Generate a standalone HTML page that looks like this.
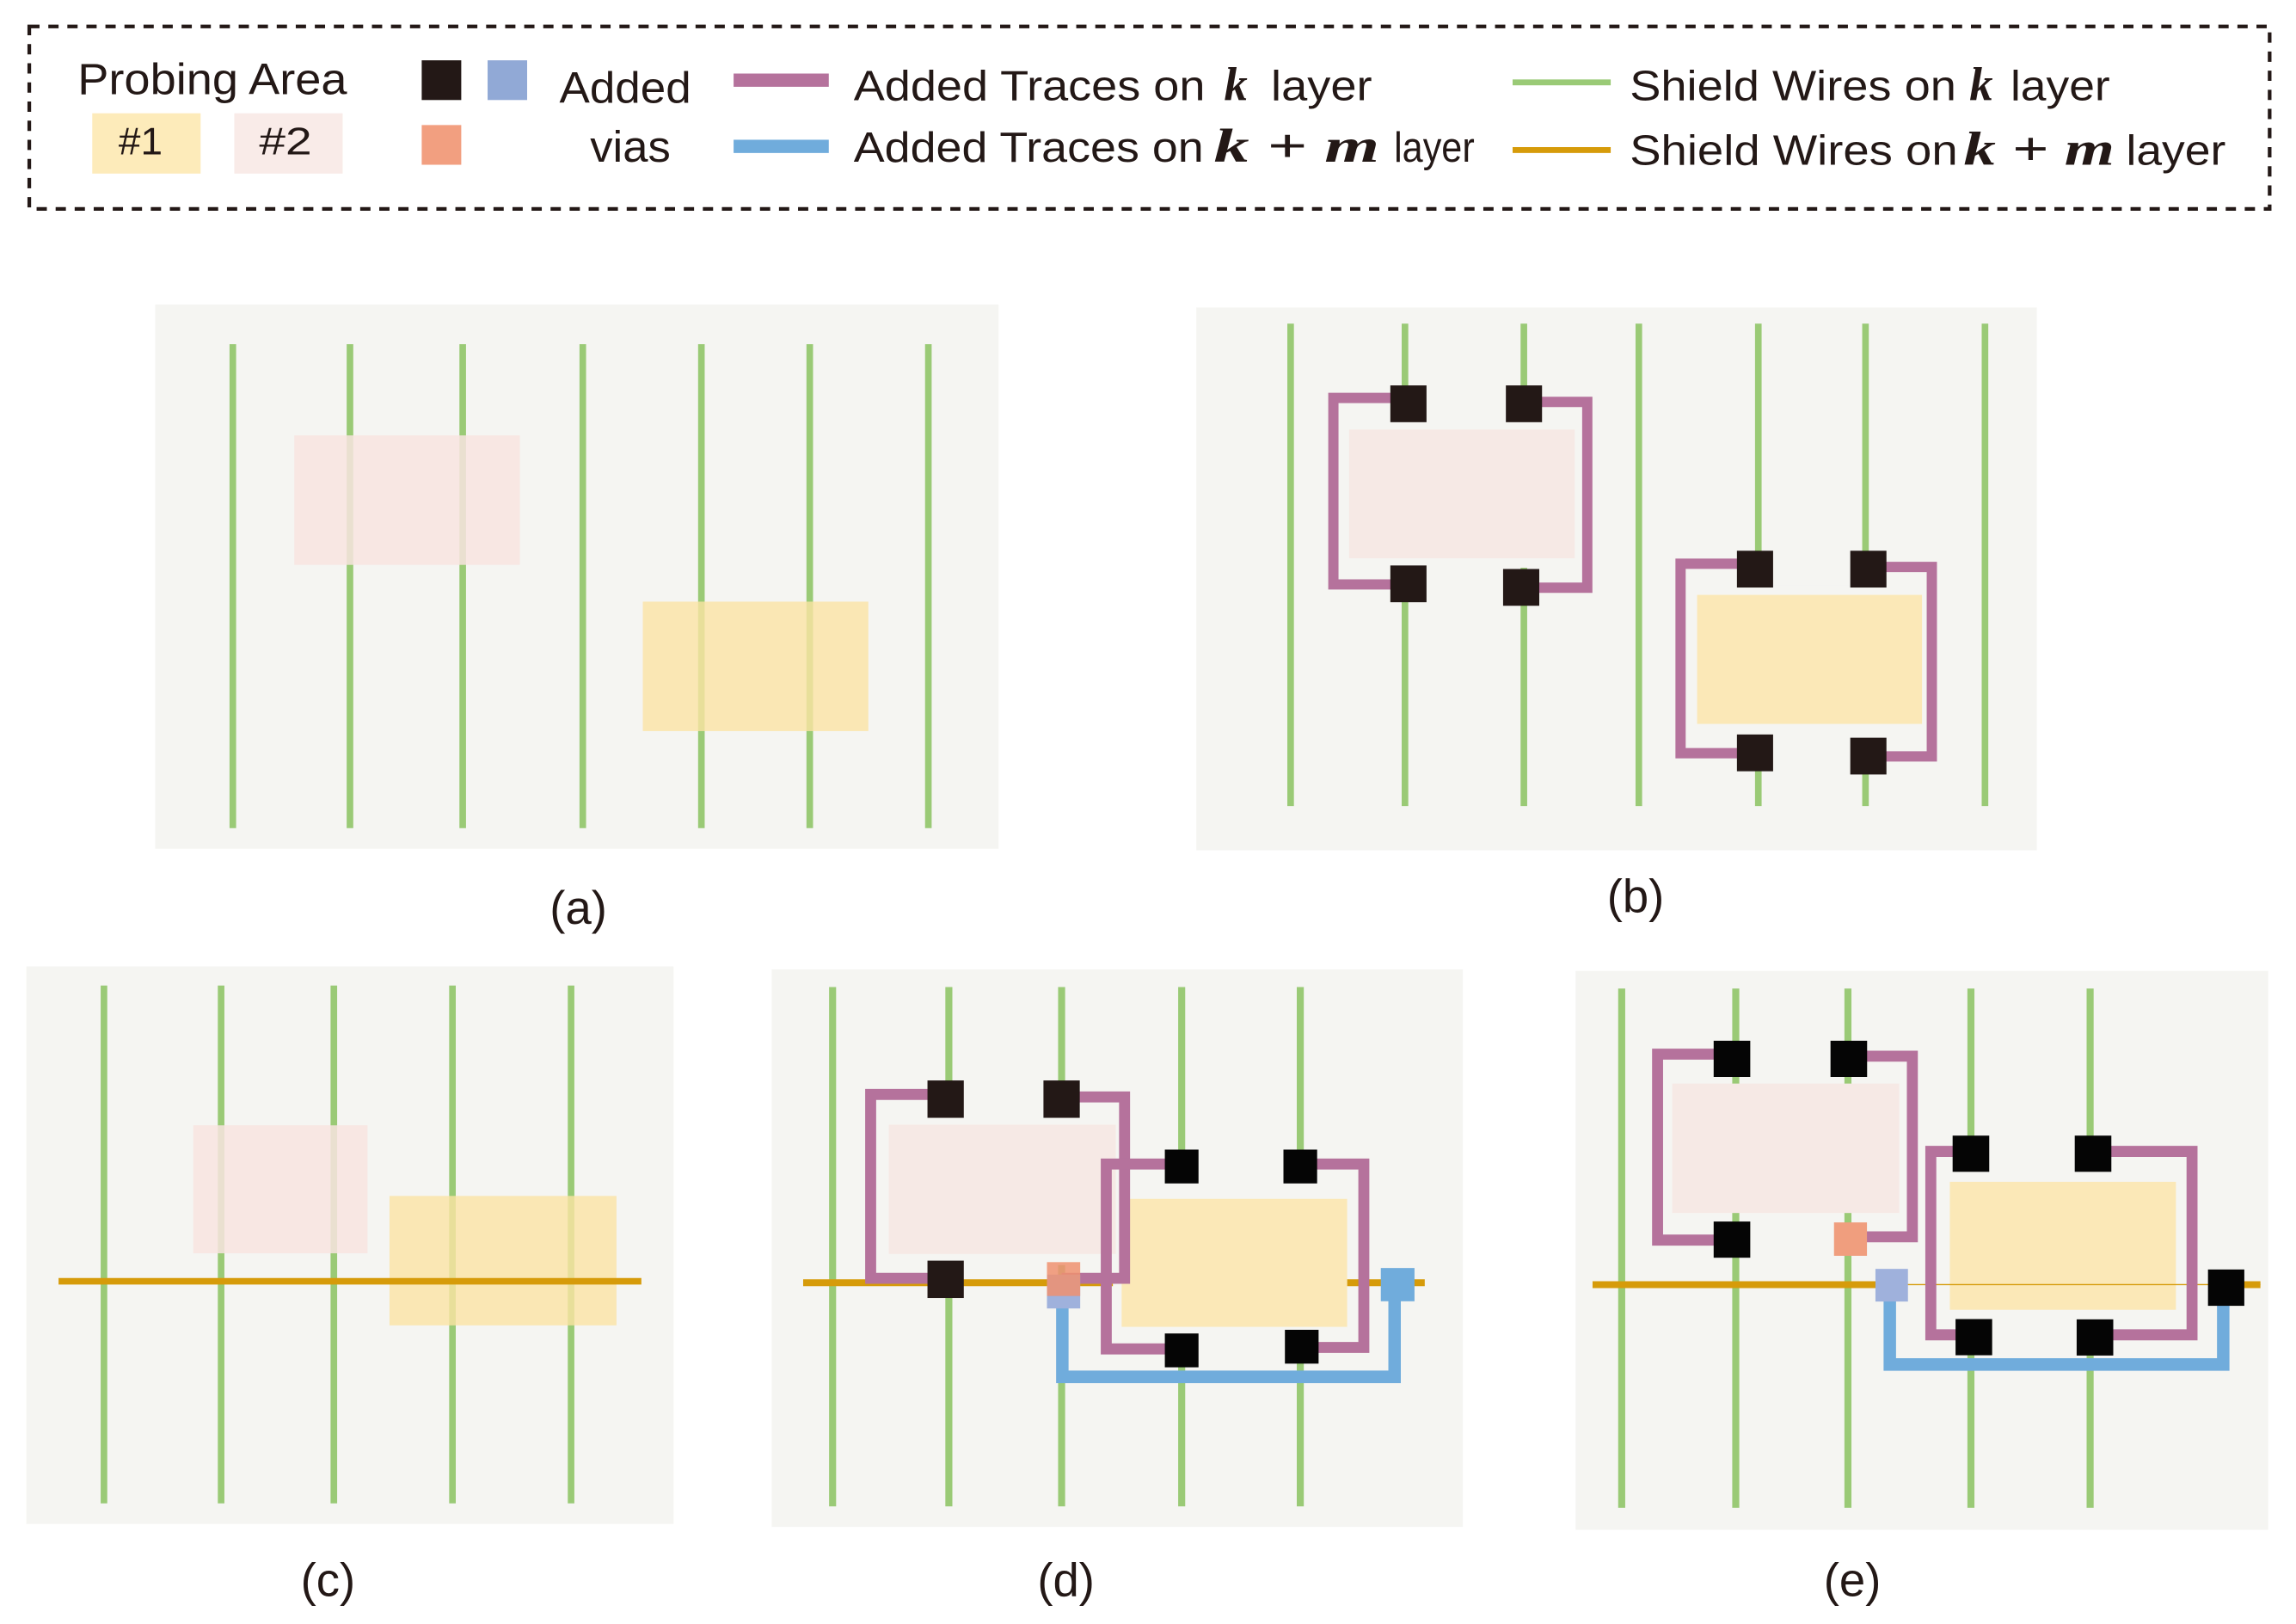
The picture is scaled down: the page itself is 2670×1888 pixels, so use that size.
<!DOCTYPE html>
<html><head><meta charset="utf-8"><style>html,body{margin:0;padding:0;background:#fff}svg{display:block}text{font-family:"Liberation Sans",sans-serif;fill:#231816}.m{font-family:"Liberation Serif",serif;font-style:italic;font-weight:bold}</style></head>
<body>
<svg width="2670" height="1888" viewBox="0 0 1568 1104" preserveAspectRatio="none" xmlns="http://www.w3.org/2000/svg">
<!-- legend -->
<rect x="20" y="18" width="1530" height="124" fill="none" stroke="#231816" stroke-width="2.5" stroke-dasharray="7,6"/>
<text x="53" y="64" font-size="30" textLength="184" lengthAdjust="spacingAndGlyphs">Probing Area</text>
<rect x="63" y="77" width="74" height="41" fill="#fdebba"/>
<rect x="160" y="77" width="74" height="41" fill="#f9ebe8"/>
<text x="81" y="105" font-size="26" textLength="30" lengthAdjust="spacingAndGlyphs">#1</text>
<text x="177" y="105" font-size="26" textLength="36" lengthAdjust="spacingAndGlyphs">#2</text>
<rect x="288" y="41" width="27" height="27" fill="#231816"/>
<rect x="333" y="41" width="27" height="27" fill="#91a9d6"/>
<rect x="288" y="85" width="27" height="27" fill="#f29f80"/>
<text x="382" y="70" font-size="30" textLength="90" lengthAdjust="spacingAndGlyphs">Added</text>
<text x="403" y="110" font-size="30" textLength="55" lengthAdjust="spacingAndGlyphs">vias</text>
<rect x="501" y="50" width="65" height="9" fill="#b5729c"/>
<rect x="501" y="95" width="65" height="9" fill="#70acdc"/>
<text x="583" y="68" font-size="29" textLength="240" lengthAdjust="spacingAndGlyphs">Added Traces on</text>
<text class="m" x="836" y="68" font-size="32">k</text>
<text x="868" y="68" font-size="29" textLength="69" lengthAdjust="spacingAndGlyphs">layer</text>
<text x="583" y="110" font-size="29" textLength="239" lengthAdjust="spacingAndGlyphs">Added Traces on</text>
<text class="m" x="829" y="110" font-size="32" textLength="113" lengthAdjust="spacingAndGlyphs">k + m</text>
<text x="952" y="110" font-size="29" textLength="55" lengthAdjust="spacingAndGlyphs">layer</text>
<rect x="1033" y="54" width="67" height="4" fill="#9aca76"/>
<rect x="1033" y="100" width="67" height="4" fill="#d69b0a"/>
<text x="1113" y="68" font-size="29" textLength="223" lengthAdjust="spacingAndGlyphs">Shield Wires on</text>
<text class="m" x="1345" y="68" font-size="32">k</text>
<text x="1373" y="68" font-size="29" textLength="68" lengthAdjust="spacingAndGlyphs">layer</text>
<text x="1113" y="112" font-size="29" textLength="224" lengthAdjust="spacingAndGlyphs">Shield Wires on</text>
<text class="m" x="1341" y="112" font-size="32" textLength="103" lengthAdjust="spacingAndGlyphs">k + m</text>
<text x="1452" y="112" font-size="29" textLength="68" lengthAdjust="spacingAndGlyphs">layer</text>

<!-- panel a -->
<rect x="106" y="207" width="576" height="370" fill="#f5f5f2"/>
<g stroke="#9aca76" stroke-width="4.5">
<line x1="159" y1="234" x2="159" y2="563"/><line x1="239" y1="234" x2="239" y2="563"/><line x1="316" y1="234" x2="316" y2="563"/><line x1="398" y1="234" x2="398" y2="563"/><line x1="479" y1="234" x2="479" y2="563"/><line x1="553" y1="234" x2="553" y2="563"/><line x1="634" y1="234" x2="634" y2="563"/>
</g>
<rect x="201" y="296" width="154" height="88" fill="#f8e4e1" opacity="0.85"/>
<rect x="439" y="409" width="154" height="88" fill="#fbe3a4" opacity="0.8"/>
<text x="395" y="628" font-size="32" text-anchor="middle">(a)</text>

<!-- panel b -->
<rect x="817" y="209" width="574" height="369" fill="#f5f5f2"/>
<g stroke="#9aca76" stroke-width="4.5">
<line x1="881.4" y1="220" x2="881.4" y2="548"/><line x1="959.5" y1="220" x2="959.5" y2="548"/><line x1="1040.7" y1="220" x2="1040.7" y2="548"/><line x1="1119.2" y1="220" x2="1119.2" y2="548"/><line x1="1200.8" y1="220" x2="1200.8" y2="548"/><line x1="1274" y1="220" x2="1274" y2="548"/><line x1="1355.6" y1="220" x2="1355.6" y2="548"/>
</g>
<rect x="948" y="286" width="120" height="100" fill="#f5f5f2"/>
<rect x="1185" y="398" width="100" height="110" fill="#f5f5f2"/>
<rect x="921.4" y="292" width="154" height="87.5" fill="#f6e9e5"/>
<rect x="1159" y="404.4" width="153.6" height="87.7" fill="#fbe8b7"/>
<g fill="none" stroke="#b5729c" stroke-width="7">
<polyline points="962,270.5 910.6,270.5 910.6,397.3 962,397.3"/>
<polyline points="1040,273.2 1084,273.2 1084,399.5 1039,399.5"/>
<polyline points="1198,383.2 1147.7,383.2 1147.7,512 1198,512"/>
<polyline points="1276,385.4 1319.3,385.4 1319.3,514.2 1276,514.2"/>
</g>
<g fill="#231816">
<rect x="949.5" y="262" width="24.7" height="25"/><rect x="1028.4" y="262" width="24.7" height="25"/>
<rect x="949.5" y="384.4" width="24.7" height="25"/><rect x="1026.5" y="386.8" width="24.7" height="25"/>
<rect x="1186.2" y="374.4" width="24.7" height="25"/><rect x="1263.6" y="374.4" width="24.7" height="25"/>
<rect x="1186.2" y="499.3" width="24.7" height="25"/><rect x="1263.6" y="501.5" width="24.7" height="25"/>
</g>
<text x="1117" y="620" font-size="32" text-anchor="middle">(b)</text>

<!-- panel c -->
<rect x="18" y="657" width="442" height="379" fill="#f5f5f2"/>
<g stroke="#9aca76" stroke-width="4.5">
<line x1="71" y1="670" x2="71" y2="1022"/><line x1="151" y1="670" x2="151" y2="1022"/><line x1="228" y1="670" x2="228" y2="1022"/><line x1="309" y1="670" x2="309" y2="1022"/><line x1="390" y1="670" x2="390" y2="1022"/>
</g>
<rect x="132" y="765" width="119" height="87" fill="#f8e4e1" opacity="0.85"/>
<rect x="266" y="813" width="155" height="88" fill="#fbe3a4" opacity="0.8"/>
<line x1="40" y1="871" x2="438" y2="871" stroke="#d69b0a" stroke-width="4.5"/>
<text x="224" y="1085" font-size="32" text-anchor="middle">(c)</text>

<!-- panel d -->
<rect x="527" y="659" width="472" height="379" fill="#f5f5f2"/>
<g stroke="#9aca76" stroke-width="4.8">
<line x1="568.6" y1="671" x2="568.6" y2="1024"/><line x1="648" y1="671" x2="648" y2="1024"/><line x1="725" y1="671" x2="725" y2="1024"/><line x1="807" y1="671" x2="807" y2="1024"/><line x1="888" y1="671" x2="888" y2="1024"/>
</g>
<line x1="548.5" y1="872" x2="973" y2="872" stroke="#d69b0a" stroke-width="4.7"/>
<rect x="640" y="750" width="100" height="110" fill="#f5f5f2"/>
<rect x="760" y="790" width="160" height="120" fill="#f5f5f2"/>
<rect x="607" y="764.6" width="155" height="87.8" fill="#f6e9e5"/>
<rect x="766" y="815" width="154" height="87" fill="#fbe8b7"/>
<g fill="none" stroke="#b5729c" stroke-width="7.5">
<polyline points="645,744 594.6,744 594.6,869 645,869"/>
<polyline points="725,745.7 768,745.7 768,869 725,869"/>
<polyline points="807,791.3 755.5,791.3 755.5,917 807,917"/>
<polyline points="888,791.3 931.4,791.3 931.4,916 888,916"/>
</g>
<polyline points="725.5,880 725.5,936 952.4,936 952.4,873" fill="none" stroke="#70acdc" stroke-width="8.5"/>
<rect x="715" y="866.5" width="22.7" height="23" fill="#9fb1dc"/>
<rect x="715" y="858" width="22.7" height="23" fill="#ee9070" opacity="0.85"/>
<rect x="943" y="862" width="23" height="22.6" fill="#70acdc"/>
<g fill="#231816">
<rect x="633.4" y="734.5" width="24.8" height="25.4"/><rect x="712.6" y="734.5" width="24.8" height="25.4"/>
<rect x="633.4" y="857" width="24.8" height="25.4"/>
</g>
<g fill="#050505">
<rect x="795.5" y="781.5" width="23" height="23"/><rect x="876.5" y="781.5" width="23" height="23"/>
<rect x="795.5" y="906.5" width="23" height="23"/><rect x="877.5" y="904" width="23" height="23"/>
</g>
<text x="728" y="1085" font-size="32" text-anchor="middle">(d)</text>

<!-- panel e -->
<rect x="1076" y="660" width="473" height="380" fill="#f5f5f2"/>
<g stroke="#9aca76" stroke-width="4.8">
<line x1="1107.5" y1="672" x2="1107.5" y2="1025"/><line x1="1185.4" y1="672" x2="1185.4" y2="1025"/><line x1="1262" y1="672" x2="1262" y2="1025"/><line x1="1346" y1="672" x2="1346" y2="1025"/><line x1="1427.4" y1="672" x2="1427.4" y2="1025"/>
</g>
<line x1="1087.6" y1="873.3" x2="1290" y2="873.3" stroke="#d69b0a" stroke-width="4.7"/>
<rect x="1325" y="795" width="170" height="105" fill="#f5f5f2"/>
<rect x="1142" y="736.6" width="155" height="88" fill="#f6e9e5"/>
<rect x="1331.6" y="803.4" width="154.4" height="87" fill="#fbe8b7"/>
<line x1="1290" y1="873.3" x2="1543.7" y2="873.3" stroke="#d69b0a" stroke-width="0.8"/>
<line x1="1532" y1="873.3" x2="1543.7" y2="873.3" stroke="#d69b0a" stroke-width="4.7"/>
<g fill="none" stroke="#b5729c" stroke-width="7.5">
<polyline points="1182,716.6 1132,716.6 1132,843 1182,843"/>
<polyline points="1262,718 1306,718 1306,840.8 1268,840.8"/>
<polyline points="1346,782.7 1318.6,782.7 1318.6,907.4 1348,907.4"/>
<polyline points="1429,782.7 1497,782.7 1497,907.4 1430,907.4"/>
</g>
<polyline points="1290.6,880 1290.6,927.6 1518.3,927.6 1518.3,887" fill="none" stroke="#70acdc" stroke-width="8.5"/>
<rect x="1280.8" y="862.6" width="22.2" height="22.2" fill="#9fb1dc"/>
<rect x="1252.5" y="831" width="22.5" height="22.7" fill="#f09e7e"/>
<g fill="#050505">
<rect x="1170.3" y="707.5" width="25" height="24.6"/><rect x="1250.1" y="707.5" width="25" height="24.6"/>
<rect x="1170.3" y="830.4" width="25" height="24.6"/>
<rect x="1333.5" y="772" width="25" height="24.6"/><rect x="1416.9" y="772" width="25" height="24.6"/>
<rect x="1335.5" y="896.7" width="25" height="24.6"/><rect x="1418.2" y="896.9" width="25" height="24.6"/>
<rect x="1507.9" y="863" width="24.8" height="24.7"/>
</g>
<text x="1265" y="1085" font-size="32" text-anchor="middle">(e)</text>
</svg>
</body></html>
